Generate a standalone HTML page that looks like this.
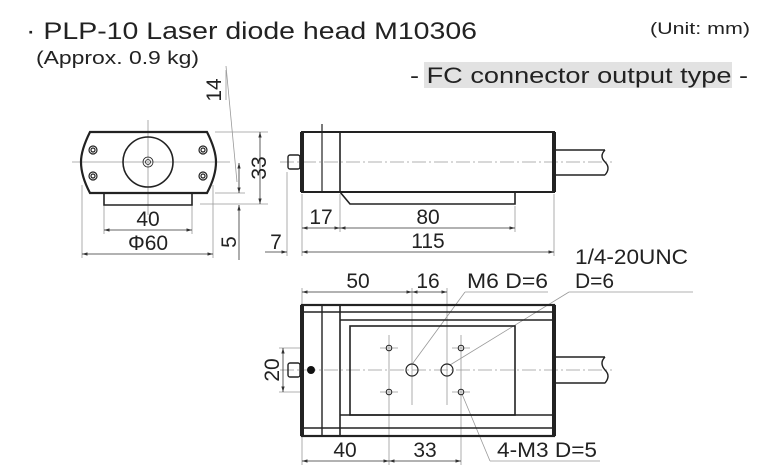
<!DOCTYPE html>
<html><head><meta charset="utf-8"><style>
body{margin:0;background:#fff}
svg{display:block}
text{font-family:"Liberation Sans",sans-serif;fill:#222}
</style></head><body>
<svg width="768" height="470" viewBox="0 0 768 470" xmlns="http://www.w3.org/2000/svg">
<defs>
<marker id="a" viewBox="0 0 10 10" refX="10" refY="5" markerWidth="7" markerHeight="7" orient="auto-start-reverse"><path d="M0,2 L10,5 L0,8 z" fill="#333"/></marker>
</defs>
<!-- header -->
<text x="26" y="39" font-size="24" textLength="451" lengthAdjust="spacingAndGlyphs">· PLP-10 Laser diode head M10306</text>
<text x="36" y="64" font-size="18" textLength="163" lengthAdjust="spacingAndGlyphs">(Approx. 0.9 kg)</text>
<text x="650" y="34" font-size="17" textLength="100" lengthAdjust="spacingAndGlyphs">(Unit: mm)</text>
<rect x="424" y="62" width="308" height="26" fill="#e2e2e2"/>
<text x="410" y="83" font-size="22" textLength="338" lengthAdjust="spacingAndGlyphs">- FC connector output type -</text>

<g stroke="#999" stroke-width="0.8" fill="none">
<line x1="148" y1="120" x2="148" y2="215"/>
<line x1="72" y1="162" x2="230" y2="162"/>
<line x1="104" y1="205" x2="104" y2="234"/><line x1="192" y1="205" x2="192" y2="234"/>
<line x1="82" y1="185" x2="82" y2="258"/><line x1="213" y1="185" x2="213" y2="258"/>
<line x1="215" y1="132" x2="268" y2="132"/><line x1="200" y1="204" x2="268" y2="204"/>
<line x1="215" y1="193" x2="245" y2="193"/>
<line x1="226" y1="66" x2="237" y2="182"/>
<line x1="226" y1="70" x2="226" y2="100"/>
<line x1="280" y1="162" x2="612" y2="162" stroke-dasharray="14,3,2,3"/>
<line x1="287" y1="172" x2="287" y2="256"/>
<line x1="302" y1="194" x2="302" y2="256"/>
<line x1="340" y1="194" x2="340" y2="232"/>
<line x1="515" y1="206" x2="515" y2="232"/>
<line x1="554" y1="194" x2="554" y2="256"/>
<line x1="280" y1="370" x2="612" y2="370" stroke-dasharray="14,3,2,3"/>
<line x1="389" y1="335" x2="389" y2="465"/><line x1="461" y1="335" x2="461" y2="465"/>
<line x1="412" y1="288" x2="412" y2="405"/><line x1="447" y1="288" x2="447" y2="405"/>
<line x1="302" y1="288" x2="302" y2="305"/><line x1="302" y1="436" x2="302" y2="465"/>
<line x1="380" y1="348" x2="398" y2="348"/><line x1="452" y1="348" x2="470" y2="348"/>
<line x1="380" y1="392" x2="398" y2="392"/><line x1="452" y1="392" x2="470" y2="392"/>
<line x1="279" y1="348" x2="302" y2="348"/><line x1="279" y1="392" x2="302" y2="392"/>
<line x1="465" y1="292" x2="548" y2="292"/><line x1="413" y1="363" x2="465" y2="292"/>
<line x1="569" y1="292" x2="693" y2="292"/><line x1="450" y1="365" x2="569" y2="292"/>
<line x1="490" y1="461" x2="600" y2="461"/><line x1="462" y1="394" x2="490" y2="461"/>
</g>

<g stroke="#333" stroke-width="0.8" fill="none">
<line x1="104" y1="230" x2="192" y2="230" marker-start="url(#a)" marker-end="url(#a)"/>
<line x1="82" y1="254" x2="213" y2="254" marker-start="url(#a)" marker-end="url(#a)"/>
<line x1="260" y1="132" x2="260" y2="204" marker-start="url(#a)" marker-end="url(#a)"/>
<line x1="239" y1="163" x2="239" y2="193" marker-start="url(#a)" marker-end="url(#a)"/>
<line x1="239" y1="260" x2="239" y2="205" marker-end="url(#a)"/>
<line x1="302" y1="228" x2="340" y2="228" marker-start="url(#a)" marker-end="url(#a)"/>
<line x1="340" y1="228" x2="515" y2="228" marker-start="url(#a)" marker-end="url(#a)"/>
<line x1="302" y1="252" x2="554" y2="252" marker-start="url(#a)" marker-end="url(#a)"/>
<line x1="265" y1="252" x2="287" y2="252" marker-end="url(#a)"/>
<line x1="302" y1="292" x2="412" y2="292" marker-start="url(#a)" marker-end="url(#a)"/>
<line x1="412" y1="292" x2="447" y2="292" marker-start="url(#a)" marker-end="url(#a)"/>
<line x1="302" y1="461" x2="389" y2="461" marker-start="url(#a)" marker-end="url(#a)"/>
<line x1="389" y1="461" x2="461" y2="461" marker-start="url(#a)" marker-end="url(#a)"/>
<line x1="283" y1="348" x2="283" y2="392" marker-start="url(#a)" marker-end="url(#a)"/>
</g>

<g stroke="#222" fill="none">
<path d="M90,132 L207,132 Q216,150 216,162 Q216,176 207,193 L90,193 Q81,176 81,162 Q81,150 90,132 Z" stroke-width="2.2"/>
<path d="M104,193 L104,205 L192,205 L192,193" stroke-width="1.6"/>
<circle cx="148" cy="162" r="25" stroke-width="1.6"/>
<circle cx="148" cy="162" r="5" stroke-width="0.8"/><circle cx="148" cy="162" r="2.5" stroke-width="0.8"/>
<g stroke-width="1.2">
<circle cx="93" cy="150" r="4"/><circle cx="93" cy="150" r="2"/>
<circle cx="93" cy="176" r="4"/><circle cx="93" cy="176" r="2"/>
<circle cx="203" cy="150" r="4"/><circle cx="203" cy="150" r="2"/>
<circle cx="203" cy="176" r="4"/><circle cx="203" cy="176" r="2"/>
</g>
</g>

<g stroke="#222" fill="none">
<rect x="302" y="132" width="252" height="60" stroke-width="2"/>
<line x1="302" y1="132" x2="302" y2="192" stroke-width="4"/>
<line x1="554" y1="132" x2="554" y2="192" stroke-width="4"/>
<line x1="322" y1="124" x2="322" y2="192" stroke-width="1.2"/>
<line x1="340" y1="132" x2="340" y2="192" stroke-width="1.6"/>
<path d="M340,192 L350,204 L515,204 L515,192" stroke-width="1.6"/>
<rect x="288" y="155" width="12" height="14" rx="2" stroke-width="1.4"/>
<line x1="300" y1="157" x2="300" y2="167" stroke-width="1.2"/>
<path d="M556,150 L605,150 M556,175 L605,175 M605,150 q-6,6 0,12 q6,6 0,13" stroke-width="1.4"/>
</g>

<g stroke="#222" fill="none">
<rect x="302" y="305" width="252" height="131" stroke-width="2.2"/>
<line x1="302" y1="305" x2="302" y2="436" stroke-width="4"/>
<line x1="554" y1="305" x2="554" y2="436" stroke-width="4"/>
<line x1="302" y1="312" x2="554" y2="312" stroke-width="1.4"/>
<line x1="302" y1="428" x2="554" y2="428" stroke-width="1.4"/>
<line x1="322" y1="305" x2="322" y2="436" stroke-width="1.4"/>
<line x1="340" y1="305" x2="340" y2="436" stroke-width="1.6"/>
<path d="M340,320 L554,320 M340,415 L554,415" stroke-width="1.4"/>
<rect x="350" y="326" width="165" height="89" stroke-width="1.6"/>
<g stroke-width="1"><circle cx="389" cy="348" r="2.8"/><circle cx="461" cy="348" r="2.8"/><circle cx="389" cy="392" r="2.8"/><circle cx="461" cy="392" r="2.8"/></g>
<circle cx="412" cy="370" r="6" stroke-width="1.2"/><circle cx="447" cy="370" r="6" stroke-width="1.2"/>
<rect x="288" y="363" width="12" height="14" rx="2" stroke-width="1.4"/>
<path d="M556,357 L605,357 M556,383 L605,383 M605,357 q-6,6 0,13 q6,6 0,13" stroke-width="1.4"/>
</g>
<circle cx="311" cy="370" r="4" fill="#111"/>

<g font-size="21">
<text x="148" y="226" text-anchor="middle">40</text>
<text x="148" y="250" text-anchor="middle">Φ60</text>
<text transform="translate(266,168) rotate(-90)" text-anchor="middle">33</text>
<text transform="translate(221,90) rotate(-90)" text-anchor="middle">14</text>
<text transform="translate(236,242) rotate(-90)" text-anchor="middle">5</text>
<text x="276" y="249" text-anchor="middle">7</text>
<text x="321" y="224" text-anchor="middle">17</text>
<text x="428" y="224" text-anchor="middle">80</text>
<text x="428" y="248" text-anchor="middle">115</text>
<text x="358" y="288" text-anchor="middle">50</text>
<text x="428" y="288" text-anchor="middle">16</text>
<text x="467" y="288" textLength="81" lengthAdjust="spacingAndGlyphs">M6 D=6</text>
<text x="575" y="264" textLength="113" lengthAdjust="spacingAndGlyphs">1/4-20UNC</text>
<text x="575" y="288">D=6</text>
<text transform="translate(279,370) rotate(-90)" text-anchor="middle">20</text>
<text x="345" y="457" text-anchor="middle">40</text>
<text x="425" y="457" text-anchor="middle">33</text>
<text x="497" y="457" textLength="100" lengthAdjust="spacingAndGlyphs">4-M3 D=5</text>
</g>
</svg>
</body></html>
